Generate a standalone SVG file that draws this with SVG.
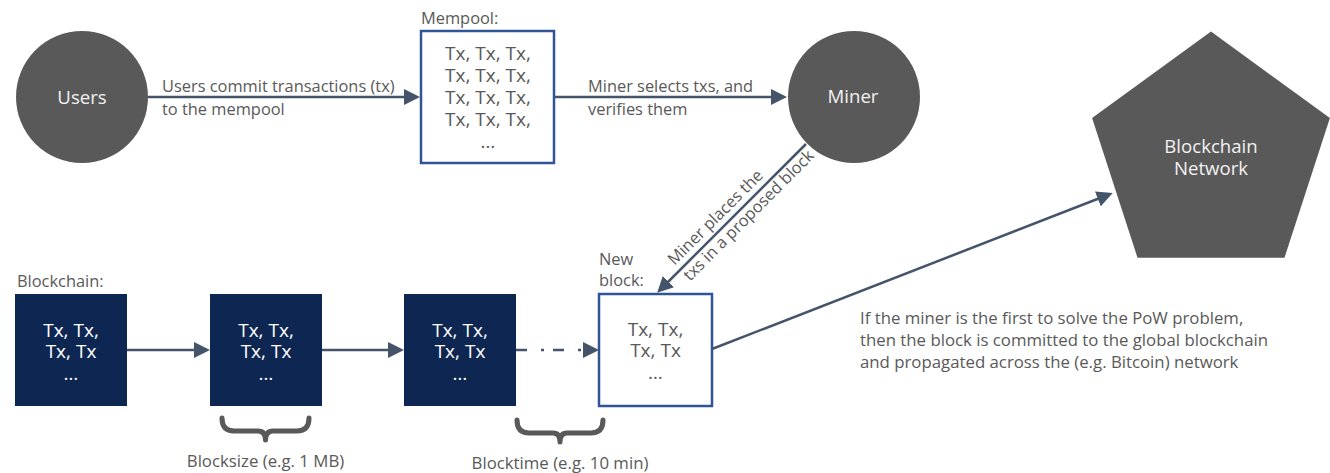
<svg xmlns="http://www.w3.org/2000/svg" width="1330" height="473" viewBox="0 0 1330 473">
<defs>
<marker id="ah" markerUnits="userSpaceOnUse" markerWidth="16" markerHeight="16" refX="12" refY="8" orient="auto">
<path d="M0,0 L16,8 L0,16 z" fill="#44546A"/>
</marker>
<style>
.lbl{font-family:"Open Sans","Liberation Sans",sans-serif;font-size:16.4px;fill:#595959}
.small{font-family:"Open Sans","Liberation Sans",sans-serif;font-size:16.8px;fill:#595959}
.tx{font-family:"Open Sans","Liberation Sans",sans-serif;font-size:19px;fill:#595959;text-anchor:middle}
.txw{font-family:"Open Sans","Liberation Sans",sans-serif;font-size:19px;fill:#ffffff;text-anchor:middle}
.node{font-family:"Open Sans","Liberation Sans",sans-serif;font-size:18.6px;fill:#f2f2f2;text-anchor:middle}
.dark{fill:#595959}
.box{fill:#ffffff;stroke:#2F5597;stroke-width:2.5}
.blk{fill:#0E2752}
.edge{fill:none;stroke:#44546A;stroke-width:2.5;marker-end:url(#ah)}
.brace{fill:none;stroke:#595959;stroke-width:5;stroke-linecap:round;stroke-linejoin:round}
</style>
</defs>

<g id="users">
<circle class="dark" cx="82" cy="97" r="66"/>
<text class="node" x="82" y="104">Users</text>
</g>

<g id="mempool">
<text class="lbl" x="421" y="24">Mempool:</text>
<rect class="box" x="421" y="31" width="133" height="132"/>
<text class="tx" x="488" y="60">Tx, Tx, Tx,<tspan x="488" dy="22">Tx, Tx, Tx,</tspan><tspan x="488" dy="22">Tx, Tx, Tx,</tspan><tspan x="488" dy="22">Tx, Tx, Tx,</tspan><tspan x="488" dy="22">…</tspan></text>
</g>

<g id="miner">
<circle class="dark" cx="854" cy="97" r="66"/>
<text class="node" x="853" y="103">Miner</text>
</g>

<g id="network">
<polygon class="dark" points="1211,31.6 1329.9,118 1284.5,257.7 1137.5,257.7 1092.1,118"/>
<text class="node" x="1211" y="153">Blockchain<tspan x="1211" dy="22">Network</tspan></text>
</g>

<g id="blockchain-label">
<text class="lbl" x="17" y="287">Blockchain:</text>
</g>

<g id="block1">
<rect class="blk" x="15" y="294" width="112" height="112"/>
<text class="txw" x="71" y="337">Tx, Tx,<tspan x="71" dy="21">Tx, Tx</tspan><tspan x="71" dy="22">…</tspan></text>
</g>

<g id="block2">
<rect class="blk" x="210" y="294" width="112" height="112"/>
<text class="txw" x="266" y="337">Tx, Tx,<tspan x="266" dy="21">Tx, Tx</tspan><tspan x="266" dy="22">…</tspan></text>
</g>

<g id="block3">
<rect class="blk" x="404" y="294" width="112" height="112"/>
<text class="txw" x="460" y="337">Tx, Tx,<tspan x="460" dy="21">Tx, Tx</tspan><tspan x="460" dy="22">…</tspan></text>
</g>

<g id="newblock">
<text class="lbl" x="599" y="265">New<tspan x="599" dy="21">block:</tspan></text>
<rect class="box" x="599" y="294" width="113" height="112"/>
<text class="tx" x="655.5" y="336">Tx, Tx,<tspan x="655.5" dy="21">Tx, Tx</tspan><tspan x="655.5" dy="22">…</tspan></text>
</g>

<g id="blocksize">
<path class="brace" d="M222,418 Q222,431 234,431 L258,431 Q265.5,431 265.5,440 Q265.5,431 273,431 L297,431 Q309,431 309,418"/>
<text class="small" x="265.5" y="467" text-anchor="middle">Blocksize (e.g. 1 MB)</text>
</g>

<g id="blocktime">
<path class="brace" d="M517,420 Q517,433 529,433 L553,433 Q560,433 560,442 Q560,433 567,433 L591,433 Q603,433 603,420"/>
<text class="small" x="560" y="469" text-anchor="middle">Blocktime (e.g. 10 min)</text>
</g>

<g id="pow-note">
<text class="small" x="860" y="324">If the miner is the first to solve the PoW problem,<tspan x="860" dy="22">then the block is committed to the global blockchain</tspan><tspan x="860" dy="22">and propagated across the (e.g. Bitcoin) network</tspan></text>
</g>

<g id="connectors">
<line class="edge" x1="148" y1="97" x2="416" y2="97"/>
<text class="lbl" x="162" y="92">Users commit transactions (tx)<tspan x="162" dy="23">to the mempool</tspan></text>

<line class="edge" x1="555" y1="97" x2="783" y2="97"/>
<text class="lbl" x="588" y="92">Miner selects txs, and<tspan x="588" dy="23">verifies them</tspan></text>

<line class="edge" x1="806" y1="144" x2="660" y2="290"/>
<g transform="translate(731.8,218.7) rotate(-45)">
<text class="lbl" x="-74" y="-7">Miner places the<tspan x="-74" dy="22">txs in a proposed block</tspan></text>
</g>

<line class="edge" x1="127" y1="350" x2="206" y2="350"/>
<line class="edge" x1="322" y1="350" x2="400" y2="350"/>
<line class="edge" x1="516" y1="350" x2="595" y2="350" stroke-dasharray="11 14 3 9"/>
<line class="edge" x1="712" y1="349" x2="1109" y2="194.5"/>
</g>
</svg>
